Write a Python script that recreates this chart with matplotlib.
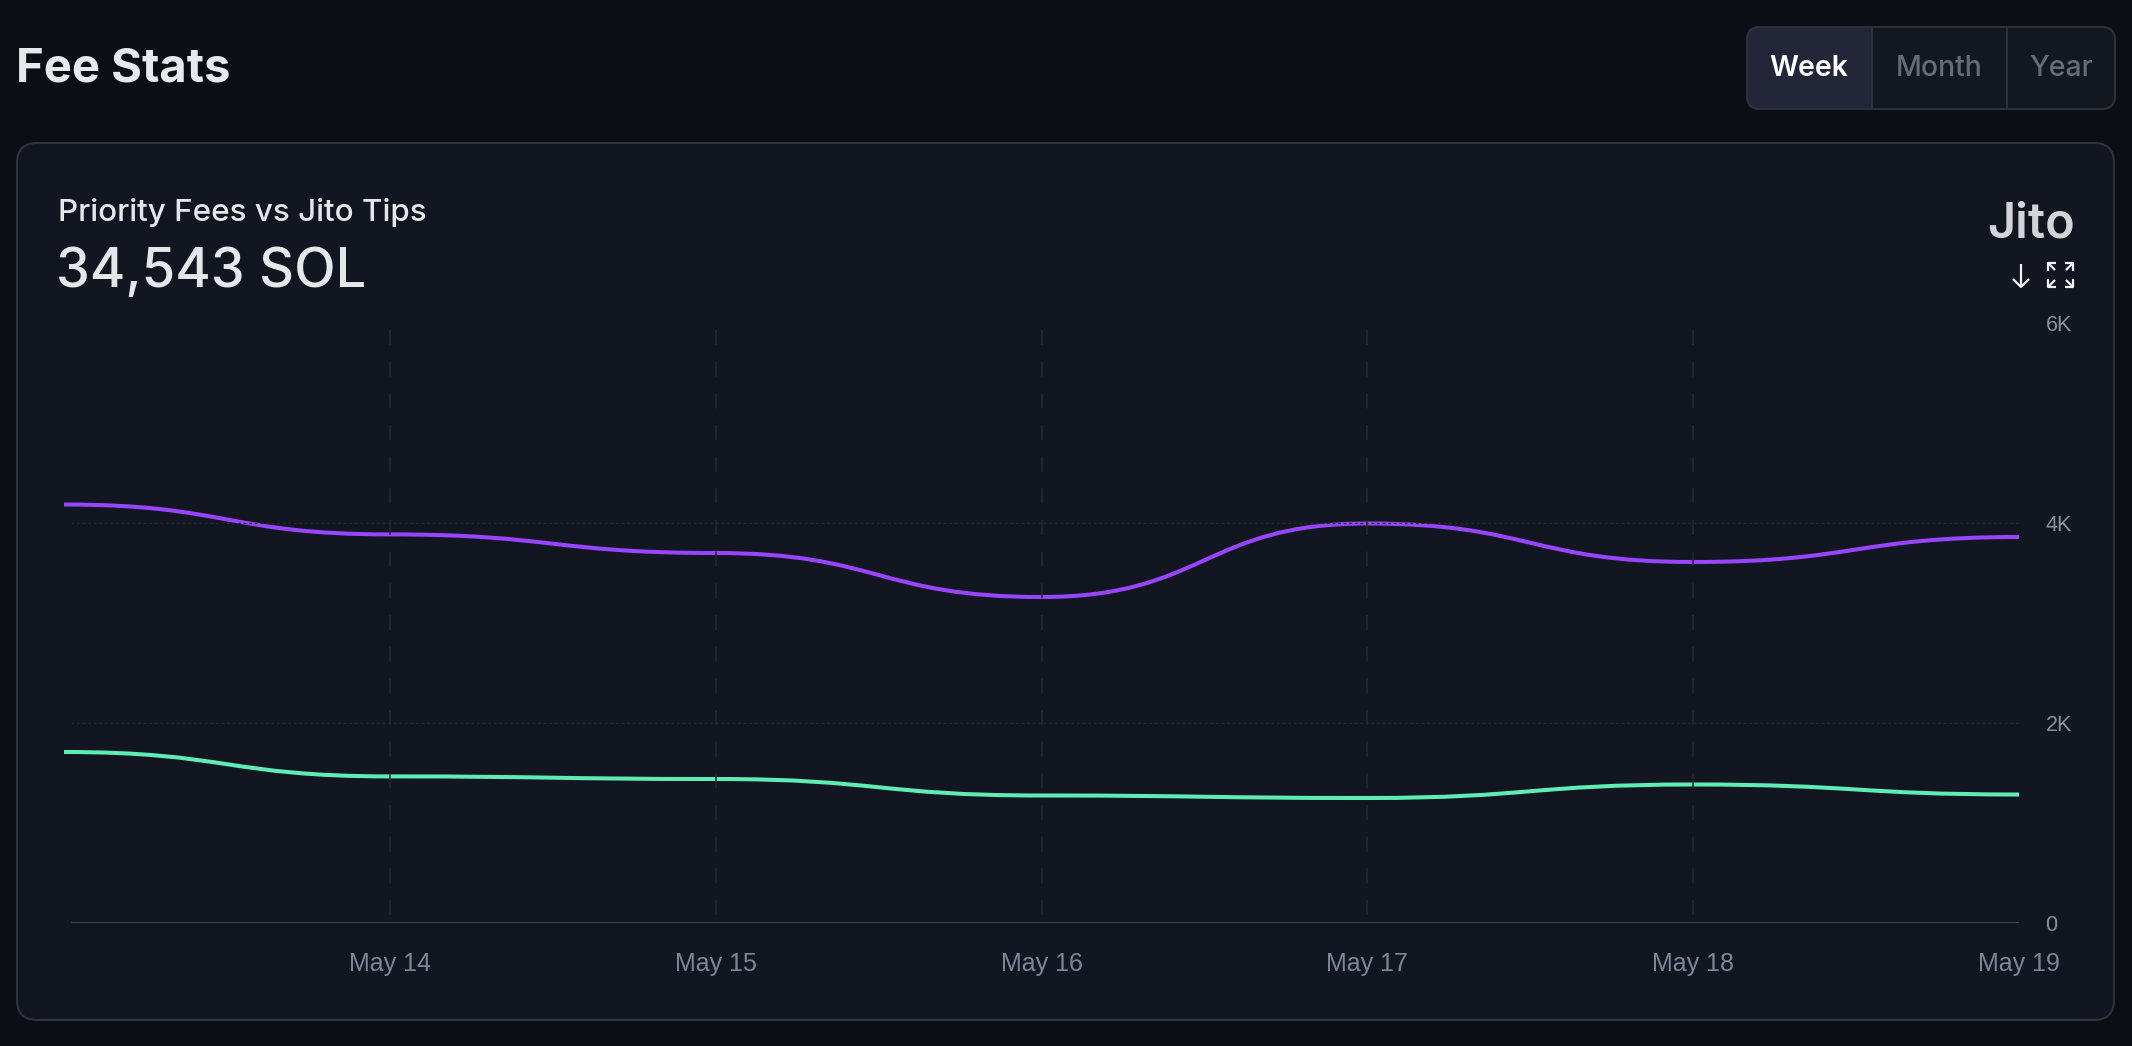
import matplotlib.pyplot as plt
from matplotlib.path import Path
from matplotlib.patches import PathPatch, FancyBboxPatch, Rectangle

# data (SOL per day)
days = [13, 14, 15, 16, 17, 18, 19]
purple_vals = [4185, 3886, 3700, 3260, 3995, 3610, 3860]
green_vals = [1710, 1466, 1440, 1275, 1250, 1385, 1285]
tick_days = [14, 15, 16, 17, 18, 19]
tick_labels = ["May 14", "May 15", "May 16", "May 17", "May 18", "May 19"]
y_ticks = [0, 2000, 4000, 6000]
y_labels = ["0", "2K", "4K", "6K"]
ranges = ["Week", "Month", "Year"]
title = "Fee Stats"
subtitle = "Priority Fees vs Jito Tips"
total_label = "34,543 SOL"

W, H = 2132, 1046
PAGE = '#0b0e15'
CARD = '#121620'
BORDER = '#30333b'
GRID = '#242831'
HEAD = 'Inter'
TICKF = 'Liberation Sans'

fig = plt.figure(figsize=(W / 100, H / 100), dpi=100)
fig.patch.set_facecolor(PAGE)

# pixel-space layer for the card, header and buttons
bg = fig.add_axes([0, 0, 1, 1])
bg.set_xlim(0, W)
bg.set_ylim(H, 0)
bg.axis('off')

bg.add_patch(FancyBboxPatch((17, 143), 2097, 877, boxstyle="round,pad=0,rounding_size=20",
                            facecolor=CARD, edgecolor=BORDER, lw=1.5))

bg.text(16, 82, title, fontsize=34, fontweight='bold', color='#e8e9ed', family=HEAD, va='baseline')
bg.text(58, 221, subtitle, fontsize=22.6, fontweight='medium', color='#e6e7ea', family=HEAD, va='baseline')
bg.text(56, 287, total_label, fontsize=39, fontweight='medium', color='#e6e7ea', family=HEAD, va='baseline')

# range selector
bx0, bx1, by0, by1 = 1747, 2115, 27, 109
bg.add_patch(FancyBboxPatch((bx0, by0), bx1 - bx0, by1 - by0, boxstyle="round,pad=0,rounding_size=13",
                            facecolor='#131720', edgecolor='none'))
bg.add_patch(FancyBboxPatch((bx0, by0), 1872 - bx0, by1 - by0, boxstyle="round,pad=0,rounding_size=13",
                            facecolor='#232638', edgecolor='none'))
bg.add_patch(Rectangle((1850, by0), 22, by1 - by0, facecolor='#232638', edgecolor='none'))
bg.add_patch(FancyBboxPatch((bx0, by0), bx1 - bx0, by1 - by0, boxstyle="round,pad=0,rounding_size=13",
                            facecolor='none', edgecolor='#2e3139', lw=1.5))
for dx in [1872, 2007]:
    bg.plot([dx, dx], [by0, by1], color='#2e3139', lw=1.5)
centers = [1809, 1939, 2061]
for name, cx in zip(ranges, centers):
    active = name == "Week"
    bg.text(cx, 76, name, fontsize=20.5, family=HEAD, ha='center', va='baseline',
            fontweight='semibold' if active else 'medium',
            color='#ffffff' if active else '#656b78')

# logo and icons
bg.text(2075, 237, "Jito", fontsize=35, fontweight='semibold', color='#d4d4d8', family=HEAD,
        ha='right', va='baseline')
ic = dict(color='#f2f2f4', lw=1.6, solid_capstyle='butt')
bg.plot([2021, 2021], [264, 287], **ic)
bg.plot([2013, 2021, 2029], [279, 287, 279], **ic)
L, R, T, B, k = 2048, 2073, 263, 287, 8
for cx, cy, sx, sy in [(L, T, 1, 1), (R, T, -1, 1), (L, B, 1, -1), (R, B, -1, -1)]:
    bg.plot([cx, cx, cx + sx * k], [cy + sy * k, cy, cy], **ic)
    bg.plot([cx, cx + sx * 7], [cy, cy + sy * 7], **ic)

# chart axes
ax = fig.add_axes([64 / W, 1 - 923 / H, (2019 - 64) / W, 600 / H])
ax.set_facecolor('none')
ax.set_xlim(days[0], days[-1])
ax.set_ylim(y_ticks[0], y_ticks[-1])
for s in ax.spines.values():
    s.set_visible(False)

x_start = days[0] + 7 / 325.8
for yv in y_ticks[1:-1]:
    ax.hlines(yv, x_start, days[-1], color=GRID, lw=1, linestyle=(0, (2, 2)))
ax.vlines(tick_days[:-1], 80, y_ticks[-1], color=GRID, lw=1.2, linestyle=(0, (9, 10)))
ax.hlines(0, x_start, days[-1], color='#3a3e47', lw=1.6)


def bump_path(xs, ys):
    verts = [(xs[0], ys[0])]
    codes = [Path.MOVETO]
    for i in range(len(xs) - 1):
        xm = (xs[i] + xs[i + 1]) / 2
        verts += [(xm, ys[i]), (xm, ys[i + 1]), (xs[i + 1], ys[i + 1])]
        codes += [Path.CURVE4] * 3
    return Path(verts, codes)


ax.add_patch(PathPatch(bump_path(days, purple_vals), fill=False, edgecolor='#9945ff', lw=2.9))
ax.add_patch(PathPatch(bump_path(days, green_vals), fill=False, edgecolor='#5eeeb5', lw=2.9))

ax.set_xticks(tick_days, tick_labels)
ax.tick_params(axis='x', length=0, pad=21, labelsize=18, labelcolor='#7d8596')
ax.yaxis.tick_right()
ax.set_yticks(y_ticks, y_labels)
ax.tick_params(axis='y', length=0, pad=19, labelsize=15.5, labelcolor='#8a8f9c')
for lab in ax.get_xticklabels() + ax.get_yticklabels():
    lab.set_family(TICKF)

fig.savefig('out.png', dpi=100, facecolor=PAGE)
